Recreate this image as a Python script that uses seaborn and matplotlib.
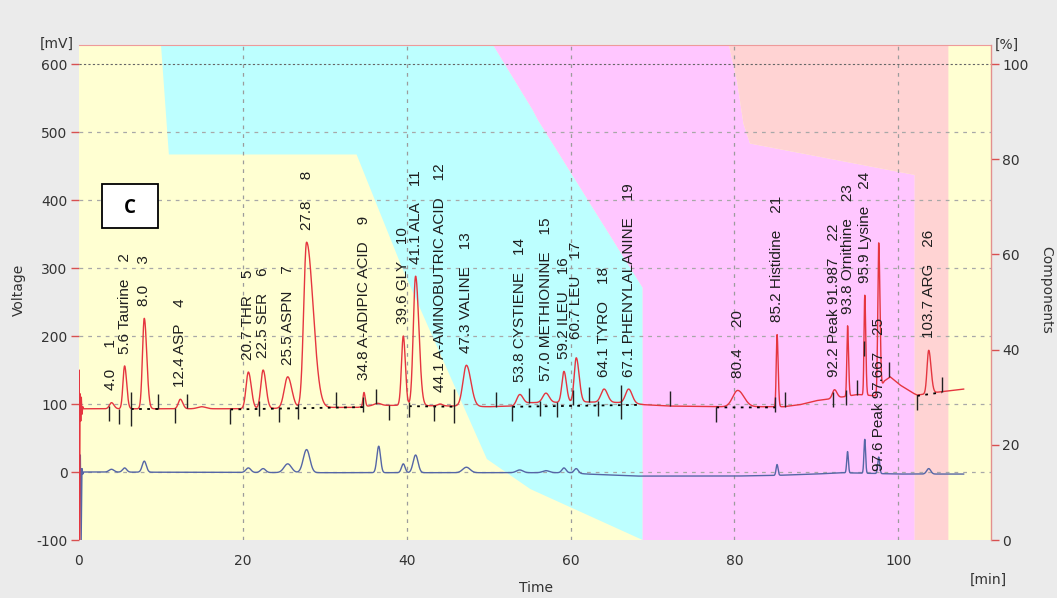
import numpy as np
import pandas as pd
import matplotlib
matplotlib.use("Agg")
import matplotlib.pyplot as plt
from matplotlib.patches import Rectangle
import seaborn as sns

# =========================
# DATA
# =========================
# labelled peaks: retention time [min], name, red apex [mV]
peak_times = [4.0, 5.6, 8.0, 12.4, 20.7, 22.5, 25.5, 27.8, 34.8, 39.6, 41.1, 44.1, 47.3,
              53.8, 57.0, 59.2, 60.7, 64.1, 67.1, 80.4, 85.2, 92.2, 93.8, 95.9, 97.6, 103.7]
peak_names = ["", "Taurine", "", "ASP", "THR", "SER", "ASPN", "", "A-ADIPIC ACID", "GLY",
              "ALA", "A-AMINOBUTRIC ACID", "VALINE", "CYSTIENE", "METHIONINE", "ILEU",
              "LEU", "TYRO", "PHENYLALANINE", "", "Histidine", "Peak 91.987", "Ornithine",
              "Lysine", "Peak 97.667", "ARG"]
red_apex = [102, 156, 226, 107, 147, 150, 140, 338, 117, 200, 288, 100, 157,
            114, 116, 148, 168, 122, 122, 120, 202, 121, 215, 260, 337, 179]
red_sig_left = [0.25, 0.2, 0.22, 0.25, 0.28, 0.28, 0.42, 0.35, 0.12, 0.22, 0.28, 0.3, 0.42,
                0.35, 0.38, 0.25, 0.25, 0.38, 0.38, 0.6, 0.1, 0.25, 0.09, 0.09, 0.11, 0.2]
red_sig_right = [0.3, 0.25, 0.3, 0.3, 0.35, 0.35, 0.5, 0.8, 0.15, 0.25, 0.4, 0.3, 0.55,
                 0.4, 0.4, 0.3, 0.35, 0.42, 0.42, 0.75, 0.13, 0.3, 0.12, 0.12, 0.15, 0.28]

# small unlabelled bumps on the red channel
red_extra_t = [15.0, 36.5]
red_extra_apex = [96, 101]
red_extra_sig = [0.5, 0.4]

# red baseline
red_base_t = [0.5, 19, 27, 31, 34, 36, 39, 46, 50, 53, 55, 62, 67, 69, 72, 78, 86, 88, 90,
              92, 93.5, 95, 97.2, 98.3, 99.0, 100.2, 101.8, 102.3, 104.5, 108]
red_base_v = [93, 93, 94, 95, 95, 98, 98, 97, 96, 97, 102, 103, 102, 99, 97, 96, 96, 99, 105,
              108, 111, 114, 112, 134, 140, 128, 116, 113, 117, 122]

# injection artefact
red_spike_t = [0, 0.05, 0.1, 0.17, 0.25, 0.32, 0.4, 0.5, 0.6]
red_spike_v = [93, 150, -100, 115, 75, 110, 85, 96, 93]

# blue channel
blue_t = [4.0, 5.6, 8.0, 20.7, 22.5, 25.5, 27.8, 36.6, 39.6, 41.1, 47.3, 53.8, 57.0,
          59.2, 60.7, 85.2, 93.8, 95.9, 97.6, 103.7]
blue_apex = [4, 6, 16, 6, 5, 12, 33, 38, 12, 25, 7, 3, 2, 6, 5, 11, 30, 48, 22, 5]
blue_sig = [0.3, 0.25, 0.25, 0.3, 0.3, 0.45, 0.4, 0.22, 0.22, 0.3, 0.45, 0.4, 0.4,
            0.25, 0.25, 0.12, 0.1, 0.1, 0.12, 0.25]
blue_base_t = [0.6, 30, 60, 62, 68, 80, 85, 90, 93, 100, 108]
blue_base_v = [0, -1, -1, -3, -6, -6, -5, -3, -1, -3, -3]
blue_spike_t = [0, 0.2, 0.3, 0.4, 0.5, 0.6]
blue_spike_v = [0, 25, -100, 5, -3, 0]

# integration events (time, 1 = up, -1 = down, 0 = both)
event_t = [3.7, 4.9, 6.4, 9.7, 11.8, 13.2, 18.5, 22.0, 24.4, 26.8, 31.4, 34.7, 36.3, 37.9,
           40.3, 43.4, 45.8, 50.9, 52.9, 54.9, 56.3, 58.3, 60.3, 62.3, 63.3, 66.2, 72.1,
           77.8, 85.0, 86.2, 92.0, 93.6, 94.9, 95.8, 98.9, 102.3, 105.3]
event_dir = [-1, -1, 0, 1, -1, 1, -1, -1, -1, -1, 1, -1, 1, -1,
             -1, -1, 0, 1, -1, 1, -1, -1, -1, 1, -1, 0, 1,
             -1, -1, 1, -1, -1, 1, -1, 1, -1, 1]
baseline_start = [6.4, 18.5, 40.3, 52.9, 77.8, 102.3]
baseline_end = [9.7, 35.0, 46.0, 68.5, 85.0, 105.3]

# solvent gradient bands [min, %]
cyan_t = [10.0, 11.0, 33.9, 39.5, 49.8, 55.1, 68.8, 68.8, 56.0, 55.4, 50.2]
cyan_p = [105, 81, 81, 57, 17, 10.7, 0, 53, 88.3, 90.3, 105]
magenta_t = [50.2, 55.4, 56.0, 68.8, 68.8, 102.0, 102.0, 81.9, 81.1, 80.3, 79.2]
magenta_p = [105, 90.3, 88.3, 53, 0, 0, 76.7, 83.3, 87.5, 96.6, 105]
salmon_t = [79.2, 80.3, 81.1, 81.9, 102.0, 102.0, 106.1, 106.1]
salmon_p = [105, 96.6, 87.5, 83.3, 76.7, 0, 0, 105]


# =========================
# TRACES
# =========================
time = np.arange(0, 108.0, 0.01)


def build_trace(base_t, base_v, pk_t, pk_apex, sig_l, sig_r, spike_t, spike_v):
    base = np.interp(time, base_t, base_v)
    y = base.copy()
    for tc, apex, s1, s2 in zip(pk_t, pk_apex, sig_l, sig_r):
        h = apex - np.interp(tc, base_t, base_v)
        s = np.where(time < tc, s1, s2)
        y += h * np.exp(-0.5 * ((time - tc) / s) ** 2)
    m = time <= spike_t[-1]
    y[m] = np.interp(time[m], spike_t, spike_v)
    return y


red = build_trace(red_base_t, red_base_v,
                  peak_times + red_extra_t, red_apex + red_extra_apex,
                  red_sig_left + red_extra_sig, red_sig_right + red_extra_sig,
                  red_spike_t, red_spike_v)
blue = build_trace(blue_base_t, blue_base_v, blue_t, blue_apex, blue_sig, blue_sig,
                   blue_spike_t, blue_spike_v)

df = pd.DataFrame({"Time": time, "red": red, "blue": blue})

# =========================
# FIGURE
# =========================
sns.set_style("white")
plt.rcParams["font.family"] = ["DejaVu Sans"]
plt.rcParams["axes.unicode_minus"] = False

W, H = 1057, 598
fig = plt.figure(figsize=(W / 100, H / 100), dpi=100, facecolor="#EBEBEB")
x0, x1, ytop, ybot = 78.7, 991, 45, 540
ax = fig.add_axes([x0 / W, 1 - ybot / H, (x1 - x0) / W, (ybot - ytop) / H])
ax.set_facecolor("#FFFFD2")

YMIN, YMAX = -100, 628
ax.set_xlim(0, 111.3)
ax.set_ylim(YMIN, YMAX)


def pct_to_mv(p):
    return np.array(p) * 7 - 100


ax.fill(cyan_t, pct_to_mv(cyan_p), color="#BDFFFF", lw=0, zorder=0.5)
ax.fill(magenta_t, pct_to_mv(magenta_p), color="#FFC6FF", lw=0, zorder=0.5)
ax.fill(salmon_t, pct_to_mv(salmon_p), color="#FFD3D3", lw=0, zorder=0.5)

# grid
for gx in [20, 40, 60, 80, 100]:
    ax.axvline(gx, color="#9C9C9C", ls=(0, (3, 4)), lw=0.9, zorder=1)
for gy in [0, 100, 200, 300, 400, 500]:
    ax.axhline(gy, color="#A8A8A8", ls=(0, (3, 4)), lw=0.9, zorder=1)
ax.axhline(600, color="#666666", ls=(0, (2, 2)), lw=0.8, zorder=1)

# traces
sns.lineplot(data=df, x="Time", y="blue", ax=ax, color="#5566A6", lw=1.0,
             estimator=None, zorder=3)
sns.lineplot(data=df, x="Time", y="red", ax=ax, color="#E5353F", lw=1.0,
             estimator=None, zorder=4)

# baseline segments and integration marks
for s, e in zip(baseline_start, baseline_end):
    ax.plot([s, e], [np.interp(s, red_base_t, red_base_v) - 1,
                     np.interp(e, red_base_t, red_base_v) - 1],
            color="black", ls=(0, (1.5, 3)), lw=1.3, zorder=5)
for et, ed in zip(event_t, event_dir):
    yv = np.interp(et, time, red)
    if ed > 0:
        lo, hi = yv, yv + 22
    elif ed < 0:
        lo, hi = yv - 22, yv
    else:
        lo, hi = yv - 25, yv + 25
    ax.vlines(et, lo, hi, color="#222222", lw=1.0, zorder=5)

# peak labels
label_override = {16: 196, 24: 2}
for i, (pt, nm, ap) in enumerate(zip(peak_times, peak_names, red_apex)):
    txt = f"{pt:.1f} {nm}    {i + 1}"
    yl = label_override.get(i, ap + 18)
    ax.text(pt, yl, txt, rotation=90, ha="center", va="bottom", fontsize=11,
            family=["Liberation Sans", "DejaVu Sans"], color="#1E1E1E", zorder=6)

# axes styling
ax.set_xticks([0, 20, 40, 60, 80, 100])
ax.set_yticks([-100, 0, 100, 200, 300, 400, 500, 600])
ax.set_xlabel("")
ax.set_ylabel("")
ax.tick_params(axis="both", direction="out", color="#D85050", length=6, width=1,
               labelcolor="#333333", labelsize=10, pad=2)
ax.tick_params(axis="x", length=8)
for side in ["left", "bottom"]:
    ax.spines[side].set_visible(False)
ax.spines["top"].set_color("#EE9A9A")
ax.spines["top"].set_linewidth(0.8)
ax.spines["right"].set_visible(False)

ax2 = ax.twinx()
ax2.set_ylim((YMIN + 100) / 7, (YMAX + 100) / 7)
ax2.set_yticks([0, 20, 40, 60, 80, 100])
ax2.tick_params(axis="y", direction="out", color="#D85050", length=6, width=1,
                labelcolor="#333333", labelsize=10, pad=2)
for side in ["left", "bottom", "top"]:
    ax2.spines[side].set_visible(False)
ax2.spines["right"].set_color("#E39090")
ax2.spines["right"].set_linewidth(1.0)
ax2.grid(False)

# unit / axis texts
fig.text(57 / W, 1 - 44 / H, "[mV]", ha="center", va="center", fontsize=10, color="#333333")
fig.text(1007 / W, 1 - 45 / H, "[%]", ha="center", va="center", fontsize=10, color="#333333")
fig.text(988 / W, 1 - 580 / H, "[min]", ha="center", va="center", fontsize=10, color="#333333")
fig.text(536 / W, 1 - 588 / H, "Time", ha="center", va="center", fontsize=10, color="#333333")
fig.text(19 / W, 1 - 290 / H, "Voltage", ha="center", va="center", rotation=90,
         fontsize=10, color="#333333")
fig.text(1046 / W, 1 - 290 / H, "Components", ha="center", va="center", rotation=270,
         fontsize=10, color="#333333")

# panel tag
fig.add_artist(Rectangle((101.7 / W, 1 - 228.3 / H), 56.6 / W, 44.3 / H,
                         transform=fig.transFigure, facecolor="white",
                         edgecolor="black", lw=1.3, zorder=10))
fig.text(130 / W, 1 - 208 / H, "C", ha="center", va="center", fontsize=13.5,
         fontweight="bold", family=["Open Sans", "DejaVu Sans"], color="black", zorder=11)

fig.savefig("out.png", dpi=100, facecolor=fig.get_facecolor())
